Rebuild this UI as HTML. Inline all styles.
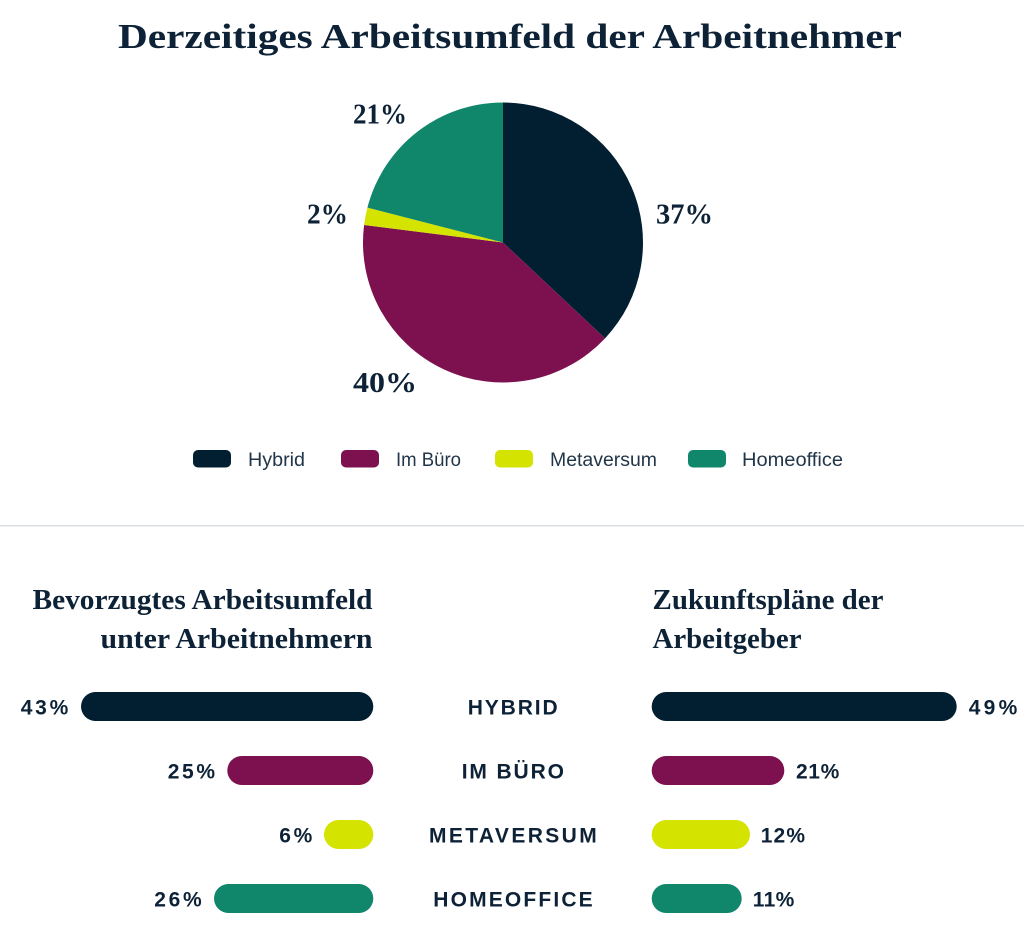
<!DOCTYPE html>
<html>
<head>
<meta charset="utf-8">
<style>
  html, body { margin: 0; padding: 0; background: #ffffff; }
  svg { display: block; }
  .serif { font-family: "Liberation Serif", "DejaVu Serif", serif; font-weight: bold; fill: #0d2236; }
  .leg { font-family: "Liberation Sans", "DejaVu Sans", sans-serif; fill: #22364a; font-size: 19px; }
  .lbl { font-family: "Liberation Sans", "DejaVu Sans", sans-serif; font-weight: bold; fill: #0d2236; font-size: 21px; }
</style>
</head>
<body>
<svg width="1024" height="934" viewBox="0 0 1024 934" xmlns="http://www.w3.org/2000/svg">
  <rect x="0" y="0" width="1024" height="934" fill="#ffffff"/>

  <!-- Title -->
  <text class="serif" x="118" y="48" font-size="35" textLength="784" lengthAdjust="spacingAndGlyphs">Derzeitiges Arbeitsumfeld der Arbeitnehmer</text>

  <!-- Pie -->
  <path d="M503,242.5 L503,102.5 A140,140 0 0 1 605.06,338.33 Z" fill="#021f31"/>
  <path d="M503,242.5 L605.06,338.33 A140,140 0 0 1 364.10,224.95 Z" fill="#7d104f"/>
  <path d="M503,242.5 L364.10,224.95 A140,140 0 0 1 367.40,207.68 Z" fill="#d4e300"/>
  <path d="M503,242.5 L367.40,207.68 A140,140 0 0 1 503,102.5 Z" fill="#10866b"/>

  <!-- Pie labels -->
  <text class="serif" x="353" y="123.5" font-size="28" textLength="54" lengthAdjust="spacingAndGlyphs">21%</text>
  <text class="serif" x="656" y="223.5" font-size="28" textLength="57" lengthAdjust="spacingAndGlyphs">37%</text>
  <text class="serif" x="307" y="223.5" font-size="28" textLength="41" lengthAdjust="spacingAndGlyphs">2%</text>
  <text class="serif" x="353" y="392" font-size="28" textLength="64" lengthAdjust="spacingAndGlyphs">40%</text>

  <!-- Legend -->
  <rect x="193" y="450" width="38" height="17.5" rx="5" ry="5" fill="#021f31"/>
  <text class="leg" x="248" y="466" textLength="57" lengthAdjust="spacingAndGlyphs">Hybrid</text>
  <rect x="341" y="450" width="38" height="17.5" rx="5" ry="5" fill="#7d104f"/>
  <text class="leg" x="396" y="466" textLength="65" lengthAdjust="spacingAndGlyphs">Im Büro</text>
  <rect x="495" y="450" width="38" height="17.5" rx="5" ry="5" fill="#d4e300"/>
  <text class="leg" x="550" y="466" textLength="107" lengthAdjust="spacingAndGlyphs">Metaversum</text>
  <rect x="688" y="450" width="38" height="17.5" rx="5" ry="5" fill="#10866b"/>
  <text class="leg" x="742" y="466" textLength="101" lengthAdjust="spacingAndGlyphs">Homeoffice</text>

  <!-- Divider -->
  <rect x="0" y="525" width="1024" height="1.5" fill="#d9dee2"/>

  <!-- Section headers -->
  <text class="serif" x="32.5" y="609" font-size="28" textLength="340" lengthAdjust="spacingAndGlyphs">Bevorzugtes Arbeitsumfeld</text>
  <text class="serif" x="100.5" y="648" font-size="28" textLength="272" lengthAdjust="spacingAndGlyphs">unter Arbeitnehmern</text>
  <text class="serif" x="652.5" y="609" font-size="28" textLength="231" lengthAdjust="spacingAndGlyphs">Zukunftspläne der</text>
  <text class="serif" x="652.5" y="648" font-size="28" textLength="149" lengthAdjust="spacingAndGlyphs">Arbeitgeber</text>

  <!-- Left bars -->
  <rect x="81" y="692" width="292.3" height="29" rx="14.5" ry="14.5" fill="#021f31"/>
  <rect x="227.3" y="756" width="146" height="29" rx="14.5" ry="14.5" fill="#7d104f"/>
  <rect x="324" y="820" width="49.3" height="29" rx="14.5" ry="14.5" fill="#d4e300"/>
  <rect x="214" y="884" width="159.3" height="29" rx="14.5" ry="14.5" fill="#10866b"/>

  <!-- Left labels -->
  <text class="lbl" x="20.7" y="714.5" textLength="47.6" lengthAdjust="spacing">43%</text>
  <text class="lbl" x="167.7" y="778.5" textLength="47.3" lengthAdjust="spacing">25%</text>
  <text class="lbl" x="279.3" y="842.5" textLength="33" lengthAdjust="spacing">6%</text>
  <text class="lbl" x="154.3" y="906.5" textLength="47.4" lengthAdjust="spacing">26%</text>

  <!-- Center category labels -->
  <text class="lbl" x="467.7" y="714.5" textLength="90" lengthAdjust="spacing">HYBRID</text>
  <text class="lbl" x="461.7" y="778.5" textLength="102.3" lengthAdjust="spacing">IM BÜRO</text>
  <text class="lbl" x="429" y="842.5" textLength="167.7" lengthAdjust="spacing">METAVERSUM</text>
  <text class="lbl" x="433.3" y="906.5" textLength="159.4" lengthAdjust="spacing">HOMEOFFICE</text>

  <!-- Right bars -->
  <rect x="651.7" y="692" width="305" height="29" rx="14.5" ry="14.5" fill="#021f31"/>
  <rect x="651.7" y="756" width="132.6" height="29" rx="14.5" ry="14.5" fill="#7d104f"/>
  <rect x="651.7" y="820" width="98.3" height="29" rx="14.5" ry="14.5" fill="#d4e300"/>
  <rect x="651.7" y="884" width="90" height="29" rx="14.5" ry="14.5" fill="#10866b"/>

  <!-- Right labels -->
  <text class="lbl" x="968.7" y="714.5" textLength="48.6" lengthAdjust="spacing">49%</text>
  <text class="lbl" x="796" y="778.5" textLength="43.3" lengthAdjust="spacing">21%</text>
  <text class="lbl" x="760.7" y="842.5" textLength="44.3" lengthAdjust="spacing">12%</text>
  <text class="lbl" x="752.7" y="906.5" textLength="41.6" lengthAdjust="spacing">11%</text>
</svg>
</body>
</html>
